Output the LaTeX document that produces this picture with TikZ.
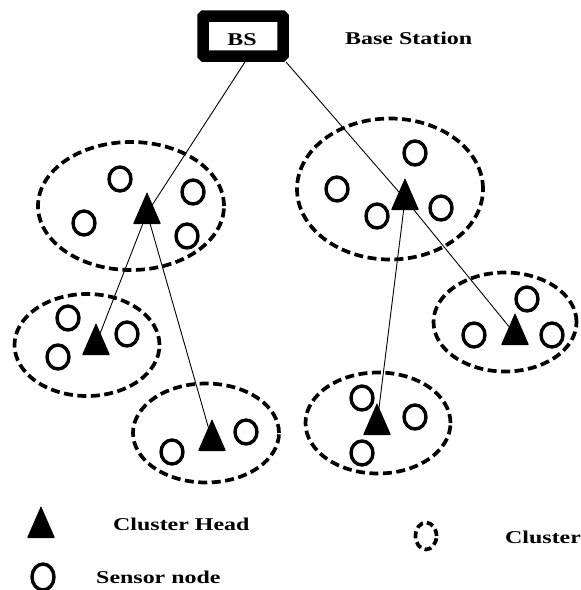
\documentclass[tikz,border=0pt]{standalone}
\usepackage{fontspec}
\usepackage{graphicx}
\setmainfont{Liberation Serif}
\usetikzlibrary{shapes.geometric,calc}

% wide bold label text
\newcommand\widelabel[1]{\scalebox{1.33}[1]{\fontsize{18}{20}\selectfont\bfseries #1}}

% a cluster head: filled triangle around a named centre point
\newcommand\chead[2]{%
  \coordinate (#1) at (#2);
  \fill[rounded corners=0.8pt] ($(#1)+(0,-21)$) -- ($(#1)+(14,11)$) -- ($(#1)+(-14,11)$) -- cycle;}

\tikzset{
  cluster/.style={draw, ellipse, line width=3.7pt, dash pattern=on 9pt off 4.5pt, inner sep=0pt},
  sensor/.style={draw, ellipse, line width=3.4pt, minimum width=22pt, minimum height=24pt, inner sep=0pt},
  link/.style={line width=0.9pt},
  lbl/.style={inner sep=0pt, anchor=base west},
}

\begin{document}
\begin{tikzpicture}[x=1pt, y=-1pt]
\useasboundingbox (0,0) rectangle (581,590);

% clusters
\node[cluster, minimum width=186pt, minimum height=128pt] (c1) at (131,206) {};
\node[cluster, minimum width=186pt, minimum height=141pt] (c2) at (390,189) {};
\node[cluster, minimum width=145pt, minimum height=102pt] (c3) at (87,345) {};
\node[cluster, minimum width=146pt, minimum height=99pt] (c4) at (206,433) {};
\node[cluster, minimum width=143pt, minimum height=99pt] (c5) at (505,322) {};
\node[cluster, minimum width=145pt, minimum height=101pt] (c6) at (378,423) {};

% base station
\node[draw, line width=11.5pt, minimum width=80pt, minimum height=40pt, inner sep=0pt, rounded corners=1pt, fill=white] (bs) at (243,36) {};
\node[inner sep=0pt, anchor=base] (bstxt) at (242,45) {\widelabel{BS}};
\node[lbl] (bslbl) at (345,44) {\widelabel{Base Station}};
\coordinate (bsL) at (245,62);
\coordinate (bsR) at (286,62);

% sensor nodes
\foreach \p [count=\i] in {(120,179),(84,223),(193,192),(187,236),
  (415,153),(337,189),(377,216),(441,208),
  (68,318),(58,357),(127,334),
  (172,452),(246,432),
  (527,299),(474,335),(552,335),
  (362,398),(415,417),(362,453)}
  \node[sensor] (s\i) at \p {};

% links between cluster heads
\draw[link] (bsL) -- (147,213);
\draw[link] (bsR) -- (405,199) -- (515,334);
\draw[link] (147,213) -- (96,344);
\draw[link] (147,213) -- (212,440);
\draw[link] (405,199) -- (377,424);

% cluster heads
\chead{ch1}{147,213}
\chead{ch2}{405,199}
\chead{ch3}{96,344}
\chead{ch4}{212,440}
\chead{ch5}{515,334}
\chead{ch6}{377,424}

% legend
\chead{legch}{41,527}
\node[lbl] (legchtxt) at (113,530) {\widelabel{Cluster Head}};
\node[sensor, minimum height=26pt] (legs) at (43,577) {};
\node[lbl] (legstxt) at (96,583) {\widelabel{Sensor node}};
\node[cluster, dash pattern=on 7pt off 4pt, minimum width=21pt, minimum height=27pt] (legc) at (426,536) {};
\node[lbl] (legctxt) at (505,543) {\widelabel{Cluster}};
\end{tikzpicture}
\end{document}
